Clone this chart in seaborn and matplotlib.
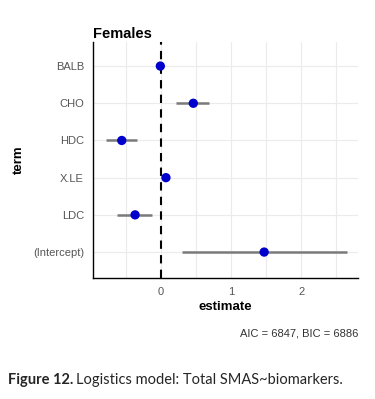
import numpy as np
import pandas as pd
import matplotlib
matplotlib.use("Agg")
import matplotlib.pyplot as plt
import seaborn as sns

terms = ["BALB", "CHO", "HDC", "X.LE", "LDC", "(Intercept)"]
estimate = [-0.01, 0.46, -0.56, 0.07, -0.37, 1.47]
conf_low = [-0.03, 0.21, -0.79, 0.05, -0.63, 0.30]
conf_high = [0.01, 0.69, -0.34, 0.09, -0.13, 2.65]
x_ticks = [0, 1, 2]


def plot():
    sns.set_style("white")
    plt.rcParams['font.family'] = ['Liberation Sans', 'DejaVu Sans']
    df = pd.DataFrame({'term': terms, 'estimate': estimate,
                       'low': conf_low, 'high': conf_high})
    ypos = np.arange(len(terms))

    fig = plt.figure(figsize=(3.75, 3.99), dpi=100)
    ax = fig.add_axes([0.248, 0.303, 0.707, 0.592])

    # grid
    for gx in np.arange(-0.5, 3.0, 0.5):
        ax.axvline(gx, color='#ebebeb', lw=0.8, zorder=0)
    for gy in ypos:
        ax.axhline(gy, color='#ebebeb', lw=0.8, zorder=0)

    ax.hlines(ypos, df['low'], df['high'], color='#7a7a7a', lw=1.8, zorder=2)
    ax.axvline(0, color='black', ls=(0, (4, 3)), lw=1.5, zorder=3)
    sns.scatterplot(x=df['estimate'], y=ypos, color='#0000cc', s=45,
                    edgecolor='none', zorder=4, ax=ax)

    ax.set_yticks(ypos)
    ax.set_yticklabels(terms)
    ax.set_ylim(5.7, -0.65)
    ax.set_xlim(-0.97, 2.81)
    ax.set_xticks(x_ticks)
    ax.tick_params(axis='both', colors='#555555', labelsize=8, length=3,
                   width=0.8, direction='out')
    ax.tick_params(axis='both', which='both', color='#333333')
    for s in ['top', 'right']:
        ax.spines[s].set_visible(False)
    for s in ['left', 'bottom']:
        ax.spines[s].set_color('black')
        ax.spines[s].set_linewidth(1.0)

    ax.set_xlabel('estimate', fontsize=9.5, fontweight='bold', labelpad=3,
                  color='black')
    ax.set_ylabel('term', fontsize=9.5, fontweight='bold', labelpad=6,
                  color='black')
    ax.set_title('Females', fontsize=10.5, fontweight='bold', loc='left',
                 x=0.0, pad=3, color='black')

    fig.text(0.955, 0.165, 'AIC = 6847, BIC = 6886', ha='right', va='center',
             fontsize=8, color='#333333')

    # caption: bold label then normal text right after it
    cap = fig.text(0.02, 0.048, 'Figure 12.', ha='left', va='center',
                   fontsize=10.5, fontweight='bold',
                   family=['Lato', 'DejaVu Sans'])
    fig.canvas.draw()
    bb = cap.get_window_extent(renderer=fig.canvas.get_renderer())
    x1 = fig.transFigure.inverted().transform((bb.x1 + 3, 0))[0]
    fig.text(x1, 0.048, 'Logistics model: Total SMAS~biomarkers.',
             ha='left', va='center', fontsize=10.5,
             family=['Lato', 'DejaVu Sans'])

    plt.savefig('out.png', dpi=100)


def main():
    plot()


if __name__ == '__main__':
    main()
